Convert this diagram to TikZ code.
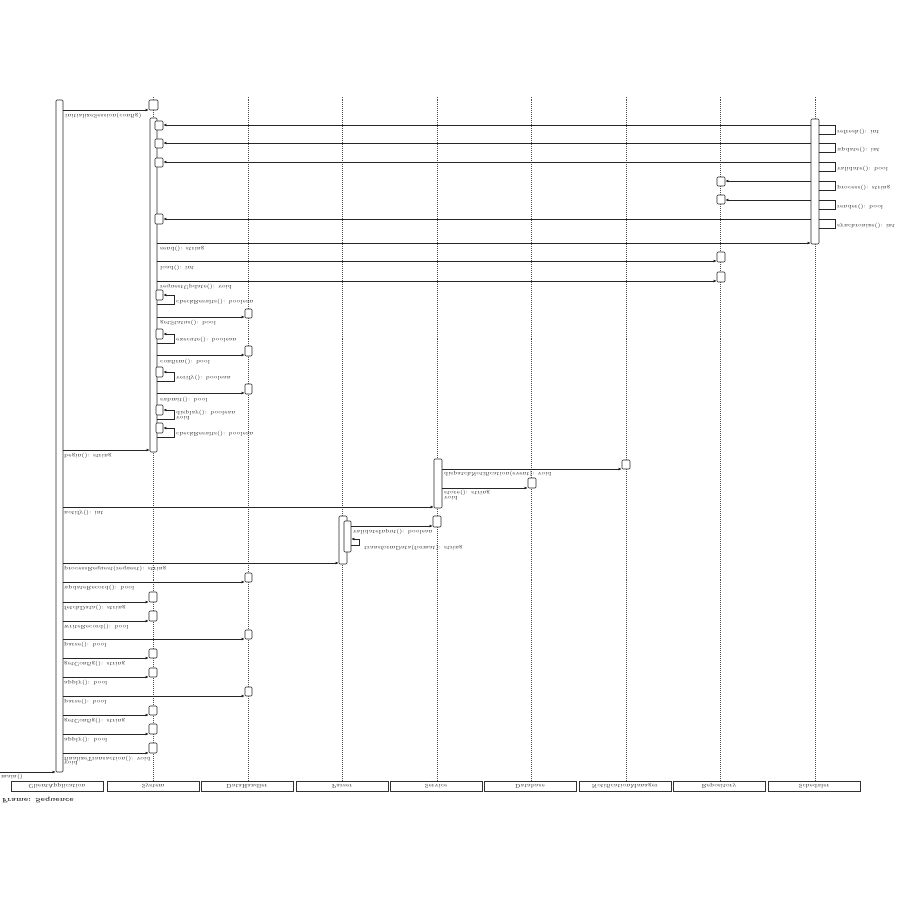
\documentclass[tikz,border=0pt]{standalone}
\usetikzlibrary{fit,arrows.meta}
% labels are printed mirrored top-to-bottom
\newcommand\fl[1]{\scalebox{1}[-1]{#1}}
% activation box spanning two corners
\newcommand\actbox[5]{\node[act, fit={(#2,#3)(#4,#5)}] (#1) {};}
\begin{document}
\begin{tikzpicture}[x=0.03cm,y=-0.03cm,
  act/.style={draw=black!85, fill=white, line width=0.5pt, rounded corners=0.8pt, inner sep=0pt},
  msg/.style={draw=black!85, line width=0.55pt, -{Latex[length=2.6pt,width=2.4pt]}},
  ret/.style={draw=black!85, line width=0.55pt},
  life/.style={draw=black!70, line width=0.5pt, dash pattern=on 0.8pt off 0.9pt},
  lbl/.style={font=\fontsize{4.6}{5}\selectfont, text=black!85, anchor=north west, inner sep=0pt},
  head/.style={draw=black!80, line width=0.7pt, fill=white, minimum width=2.76cm, minimum height=0.3cm,
    inner sep=0pt, font=\fontsize{4.6}{5}\selectfont, text=black!85}]
\useasboundingbox (0,0) rectangle (900,900);

% lifeline heads
\node[head] (h0) at (57,786) {\fl{ClientApplication}};
\node[head] (h1) at (153,786) {\fl{System}};
\node[head] (h2) at (247,786) {\fl{DataHandler}};
\node[head] (h3) at (342,786) {\fl{Parser}};
\node[head] (h4) at (436,786) {\fl{Service}};
\node[head] (h5) at (530,786) {\fl{Database}};
\node[head] (h6) at (625,786) {\fl{NotificationManager}};
\node[head] (h7) at (719,786) {\fl{Repository}};
\node[head] (h8) at (814,786) {\fl{Scheduler}};
\node[lbl, font=\fontsize{5.4}{6}\selectfont\bfseries] (frame) at (2,797) {\fl{Frame: Sequence}};

% dotted lifelines
\foreach \h/\x in {h1/153,h2/248,h3/342,h4/437,h5/531,h6/626,h7/720,h8/815}
  \draw[life] (\h.north -| \x,0) -- (\x,97);

% long activation bars
\actbox{L}{56}{100}{63}{772}
\actbox{B}{150}{118}{157}{452}
\actbox{R}{811}{119}{819}{244}
\actbox{D}{434}{459}{442}{508}
\actbox{C}{339}{516}{347}{564}
\actbox{C2}{344}{521}{351}{552}

% short activations
\actbox{a0}{149}{100}{158}{110}
\actbox{a1}{155}{121}{163}{130}
\actbox{a2}{155}{139}{163}{148}
\actbox{a3}{155}{158}{163}{167}
\actbox{g1}{717}{177}{725}{186}
\actbox{g2}{717}{195}{725}{204}
\actbox{a4}{155}{214}{163}{224}
\actbox{g3}{717}{252}{725}{262}
\actbox{g4}{717}{272}{725}{282}
\actbox{s1}{156}{290}{163}{300}
\actbox{b1}{245}{309}{252}{318}
\actbox{s2}{156}{329}{163}{339}
\actbox{b2}{245}{346}{252}{356}
\actbox{s3}{156}{367}{163}{377}
\actbox{b3}{245}{384}{252}{394}
\actbox{s4}{156}{405}{163}{415}
\actbox{s5}{156}{423}{163}{433}
\actbox{f1}{622}{460}{630}{469}
\actbox{e1}{528}{478}{536}{488}
\actbox{d1}{433}{516}{441}{527}
\actbox{b4}{245}{573}{252}{582}
\actbox{a5}{149}{592}{157}{602}
\actbox{a6}{149}{611}{157}{621}
\actbox{b5}{245}{630}{252}{639}
\actbox{a7}{149}{649}{157}{658}
\actbox{a8}{149}{668}{157}{677}
\actbox{b6}{245}{687}{252}{696}
\actbox{a9}{149}{706}{157}{715}
\actbox{a10}{149}{724}{157}{734}
\actbox{a11}{149}{743}{157}{753}

% found message
\coordinate (start) at (0,772);
\draw[msg] (start) -- (L.west |- start);
\node[lbl] at (1,774) {\fl{main()}};

% top: call into System
\draw[msg] (L.east |- 0,110) -- (a0.west |- 0,110);
\node[lbl] at (65,113) {\fl{initializeSession(config)}};

% Scheduler calls back
\foreach \t/\y in {a1/125,a2/143,a3/162,g1/181,g2/200,a4/219}
  \draw[msg] (R.west |- 0,\y) -- (\t.east |- 0,\y);
\foreach \y/\txt in {125/refresh(): int,143/update(): int,162/validate(): bool,181/process(): string,200/render(): bool,219/synchronize(): int}{
  \draw[ret] (R.east |- 0,\y) -- ++(16,0) -- ++(0,9) -- (R.east |- 0,\y+9);
  \node[lbl] at (837,\y+4) {\fl{\txt}};
}

% System to Scheduler / Repository
\draw[msg] (B.east |- 0,243) -- (R.west |- 0,243);
\node[lbl] at (160,246) {\fl{send(): string}};
\draw[msg] (B.east |- 0,261) -- (g3.west |- 0,261);
\node[lbl] at (160,265) {\fl{load(): int}};
\draw[msg] (B.east |- 0,281) -- (g4.west |- 0,281);
\node[lbl] at (160,284) {\fl{requestUpdate(): void}};

% self calls and calls to DataHandler
\draw[msg] (B.east |- 0,304) -- ++(17,0) -- ++(0,-9) -- (s1.east |- 0,295);
\node[lbl] at (176,299) {\fl{checkResults(): boolean}};
\draw[msg] (B.east |- 0,317) -- (b1.west |- 0,317);
\node[lbl] at (160,320) {\fl{getStatus(): bool}};
\draw[msg] (B.east |- 0,343) -- ++(17,0) -- ++(0,-9) -- (s2.east |- 0,334);
\node[lbl] at (176,337) {\fl{execute(): boolean}};
\draw[msg] (B.east |- 0,355) -- (b2.west |- 0,355);
\node[lbl] at (160,359) {\fl{confirm(): bool}};
\draw[msg] (B.east |- 0,381) -- ++(17,0) -- ++(0,-9) -- (s3.east |- 0,372);
\node[lbl] at (176,375) {\fl{verify(): boolean}};
\draw[msg] (B.east |- 0,393) -- (b3.west |- 0,393);
\node[lbl] at (160,397) {\fl{submit(): bool}};
\draw[msg] (B.east |- 0,419) -- ++(17,0) -- ++(0,-9) -- (s4.east |- 0,410);
\node[lbl] at (176,410) {\fl{display(): boolean}};
\node[lbl] at (176,416) {\fl{void}};
\draw[msg] (B.east |- 0,437) -- ++(17,0) -- ++(0,-9) -- (s5.east |- 0,428);
\node[lbl] at (176,431) {\fl{checkResults(): boolean}};

\draw[msg] (L.east |- 0,450) -- (B.west |- 0,450);
\node[lbl] at (64,453) {\fl{begin(): string}};

% Service block
\draw[msg] (D.east |- 0,469) -- (f1.west |- 0,469);
\node[lbl] at (444,471) {\fl{dispatchNotification(event): void}};
\draw[msg] (D.east |- 0,488) -- (e1.west |- 0,488);
\node[lbl] at (444,490) {\fl{store(): string}};
\node[lbl] at (444,496) {\fl{void}};
\draw[msg] (L.east |- 0,507) -- (D.west |- 0,507);
\node[lbl] at (64,510) {\fl{notify(): int}};

% Parser block
\draw[msg] (C2.east |- 0,526) -- (d1.west |- 0,526);
\node[lbl] at (353,529) {\fl{validateInput(): boolean}};
\draw[msg] (C2.east |- 0,545) -- ++(8,0) -- ++(0,-6) -- (C2.east |- 0,539);
\node[lbl] at (364,545) {\fl{transformData(format): string}};
\draw[msg] (L.east |- 0,563) -- (C.west |- 0,563);
\node[lbl] at (64,566) {\fl{processRequest(request): string}};

% lower calls from ClientApplication
\foreach \t/\y/\txt in {b4/582/updateRecord(): bool, a5/602/fetchData(): string, a6/621/writeRecord(): bool,
  b5/639/parse(): bool, a7/658/getConfig(): string, a8/677/apply(): bool, b6/696/parse(): bool,
  a9/715/getConfig(): string, a10/734/apply(): bool, a11/753/finalizeTransaction(): void}{
  \draw[msg] (L.east |- 0,\y) -- (\t.west |- 0,\y);
  \node[lbl] at (64,\y+3) {\fl{\txt}};
}
\node[lbl] at (64,761) {\fl{void}};
\end{tikzpicture}
\end{document}
